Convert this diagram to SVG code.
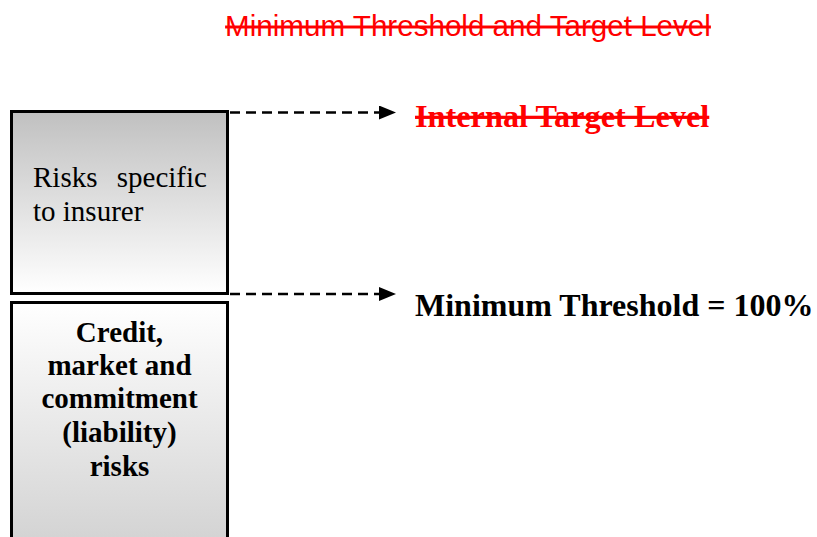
<svg xmlns="http://www.w3.org/2000/svg" width="817" height="537" viewBox="0 0 817 537">
  <style>
    .box { stroke: #000; stroke-width: 3; }
    .serif { font-family: "Liberation Serif", "Times New Roman", serif; }
    .label { font-size: 29px; fill: #000; }
    .bold { font-weight: bold; }
    .strike { text-decoration: line-through; }
    .red { fill: #ff0000; }
    .dash { stroke: #000; stroke-width: 2.5; stroke-dasharray: 10 6; fill: none; }
  </style>
  <defs>
    <linearGradient id="gradTop" x1="0" y1="0" x2="0" y2="1">
      <stop offset="0" stop-color="#c0c0c0"/>
      <stop offset="1" stop-color="#ffffff"/>
    </linearGradient>
    <linearGradient id="gradBottom" gradientUnits="userSpaceOnUse" x1="0" y1="302" x2="0" y2="537">
      <stop offset="0" stop-color="#ffffff"/>
      <stop offset="1" stop-color="#d4d4d4"/>
    </linearGradient>
    <marker id="arrow" markerUnits="userSpaceOnUse" markerWidth="17" markerHeight="14" refX="0" refY="7" orient="auto">
      <polygon points="0,0 17,7 0,14" fill="#000"/>
    </marker>
  </defs>

  <!-- heading -->
  <text id="title" x="468" y="36" text-anchor="middle" class="strike red"
        font-family="Liberation Sans, Arial, sans-serif" font-size="29.6">Minimum Threshold and Target Level</text>

  <!-- upper block: insurer-specific risks -->
  <g id="node-specific">
    <rect class="box" x="11.5" y="111.5" width="216" height="182" fill="url(#gradTop)"/>
    <text class="serif label" x="33" y="187" word-spacing="12">Risks specific</text>
    <text class="serif label" x="33" y="221">to insurer</text>
  </g>

  <!-- lower block: credit, market and commitment risks -->
  <g id="node-credit">
    <rect class="box" x="11.5" y="302.5" width="216" height="260" fill="url(#gradBottom)"/>
    <text class="serif label bold" text-anchor="middle" x="119.5" y="342">Credit,</text>
    <text class="serif label bold" text-anchor="middle" x="119.5" y="375">market and</text>
    <text class="serif label bold" text-anchor="middle" x="119.5" y="408">commitment</text>
    <text class="serif label bold" text-anchor="middle" x="119.5" y="442">(liability)</text>
    <text class="serif label bold" text-anchor="middle" x="119.5" y="476">risks</text>
  </g>

  <!-- level labels -->
  <g id="node-target">
    <text class="serif bold strike red" x="415" y="127" font-size="32.3">Internal Target Level</text>
  </g>
  <g id="node-minimum">
    <text class="serif bold" x="415" y="316" font-size="32" fill="#000">Minimum Threshold = 100%</text>
  </g>

  <!-- connectors -->
  <g id="connectors">
    <line class="dash" x1="230" y1="112.5" x2="379" y2="112.5" marker-end="url(#arrow)"/>
    <line class="dash" x1="230" y1="294" x2="379" y2="294" marker-end="url(#arrow)"/>
  </g>
</svg>
